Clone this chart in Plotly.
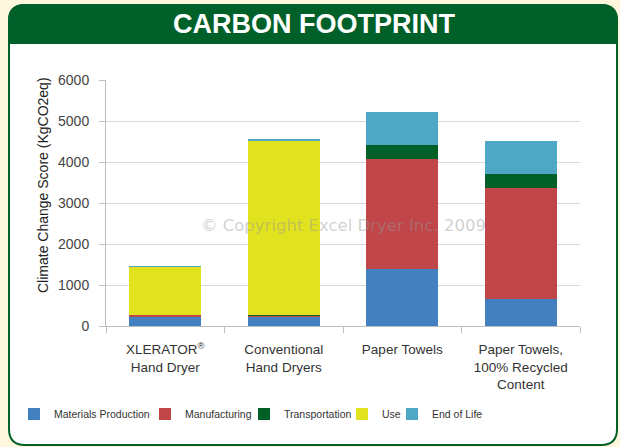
import plotly.graph_objects as go

# ---------------- data ----------------
categories = [
    "XLERATOR<sup>®</sup><br>Hand Dryer",
    "Conventional<br>Hand Dryers",
    "Paper Towels",
    "Paper Towels,<br>100% Recycled<br>Content",
]
materials_production = [220, 220, 1385, 660]
manufacturing = [50, 45, 2680, 2700]
transportation = [10, 10, 350, 350]
use = [1165, 4255, 0, 0]
end_of_life = [5, 20, 805, 805]

y_ticks = [0, 1000, 2000, 3000, 4000, 5000, 6000]

series_names = ["Materials Production", "Manufacturing", "Transportation", "Use", "End of Life"]
series_values = [materials_production, manufacturing, transportation, use, end_of_life]
series_colors = ["#4280C0", "#C0464A", "#006027", "#E2E31F", "#4FA7C6"]

# ---------------- layout geometry (pixels) ----------------
W, H = 620, 447
ML, MR, MT, MB = 106, 40, 80, 121
PW = W - ML - MR
PH = H - MT - MB


def px(x):
    return (x - ML) / PW


def py(y):
    return (H - MB - y) / PH


def rounded_path(x0, y0, x1, y1, r, round_bottom=True):
    rx, ry = r / PW, r / PH
    X0, X1 = px(x0), px(x1)
    Y0, Y1 = py(y0), py(y1)  # Y0 top, Y1 bottom
    p = f"M {X0},{Y0 - ry} Q {X0},{Y0} {X0 + rx},{Y0} L {X1 - rx},{Y0} Q {X1},{Y0} {X1},{Y0 - ry} "
    if round_bottom:
        p += f"L {X1},{Y1 + ry} Q {X1},{Y1} {X1 - rx},{Y1} L {X0 + rx},{Y1} Q {X0},{Y1} {X0},{Y1 + ry} Z"
    else:
        p += f"L {X1},{Y1} L {X0},{Y1} Z"
    return p


fig = go.Figure()
legend_ids = ["legend", "legend2", "legend3", "legend4", "legend5"]
for name, vals, color, lg in zip(series_names, series_values, series_colors, legend_ids):
    fig.add_trace(go.Bar(
        x=categories, y=vals, name=name, legend=lg,
        marker=dict(color=color, line=dict(width=0)),
    ))

GREEN = "#00602A"
shapes = [
    dict(type="path", xref="paper", yref="paper", layer="below",
         path=rounded_path(9, 5, 617, 445, 16), fillcolor="white",
         line=dict(color=GREEN, width=2)),
    dict(type="path", xref="paper", yref="paper", layer="below",
         path=rounded_path(9, 5, 617, 43, 16, round_bottom=False), fillcolor=GREEN,
         line=dict(color=GREEN, width=2)),
]

annotations = [
    dict(text="<b>CARBON FOOTPRINT</b>", xref="paper", yref="paper",
         x=px(314), y=py(24), xanchor="center", yanchor="middle", showarrow=False,
         font=dict(family="Liberation Sans, Arial", size=27, color="white")),
    dict(text="Climate Change Score (KgCO2eq)", xref="paper", yref="paper",
         x=px(43), y=py(185), xanchor="center", yanchor="middle", showarrow=False,
         textangle=-90,
         font=dict(family="Liberation Sans, Arial", size=14, color="#222")),
    dict(text="© Copyright Excel Dryer Inc. 2009", xref="paper", yref="y",
         x=0.5, y=2460, xanchor="center", yanchor="middle", showarrow=False,
         font=dict(family="DejaVu Sans", size=16.5, color="rgba(150,150,150,0.45)")),
]

legend_left_px = [14, 145, 244, 342, 392]
legend_font = dict(family="Liberation Sans, Arial", size=10.5, color="#333")
legend_layout = {}
for lg, lx in zip(legend_ids, legend_left_px):
    legend_layout[lg] = dict(orientation="h", x=px(lx), y=py(414), xanchor="left", yanchor="middle",
                             bgcolor="rgba(0,0,0,0)", font=legend_font, itemwidth=30)

fig.update_layout(
    width=W, height=H,
    margin=dict(l=ML, r=MR, t=MT, b=MB, pad=0),
    paper_bgcolor="#FEF7DE",
    plot_bgcolor="rgba(0,0,0,0)",
    barmode="stack",
    bargap=0.39,
    shapes=shapes,
    annotations=annotations,
    showlegend=True,
    font=dict(family="Liberation Sans, Arial", color="#333"),
    **legend_layout,
)

fig.update_yaxes(
    range=[0, 6000], tickvals=y_ticks, ticks="outside", ticklen=6, tickcolor="#BFBFBF",
    showgrid=True, gridcolor="#D9D9D9", gridwidth=1,
    showline=True, linecolor="#BFBFBF", linewidth=1, zeroline=False,
    tickfont=dict(size=14, color="#444"), ticklabelstandoff=7,
)
fig.update_xaxes(
    ticks="outside", tickson="boundaries", ticklen=6, tickcolor="#BFBFBF",
    showline=True, linecolor="#BFBFBF", linewidth=1,
    tickfont=dict(size=13.5, color="#333"), ticklabelstandoff=11,
)

fig.write_html("out.html", config={"displayModeBar": False},
               post_script="document.body.style.margin='0';")
